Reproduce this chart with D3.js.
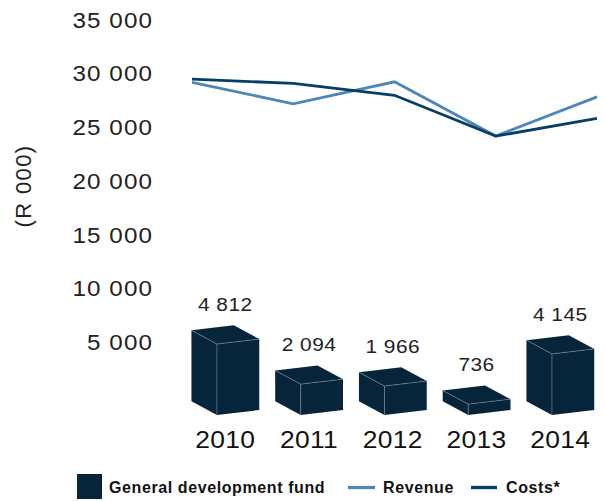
<!DOCTYPE html>
<html>
<head>
<meta charset="utf-8">
<script src="https://cdn.jsdelivr.net/npm/d3@7"></script>
<style>
  html, body { margin: 0; padding: 0; background: #fff; }
  svg { display: block; font-family: "Liberation Sans", Arial, Helvetica, sans-serif; }
</style>
</head>
<body>
<svg id="chart" width="605" height="501"></svg>
<script>
// Data
const years = ["2010", "2011", "2012", "2013", "2014"];
const generalFund = [4812, 2094, 1966, 736, 4145];
const revenue = [29200, 27200, 29250, 24200, 27850];
const costs = [29500, 29100, 28000, 24200, 25850];
const yTicks = [5000, 10000, 15000, 20000, 25000, 30000, 35000];
const legendItems = ["General development fund", "Revenue", "Costs*"];

const colors = {
  fund: "#06243a",
  edge: "#7f9db4",
  revenue: "#4e86b6",
  costs: "#053f66",
  text: "#222"
};

const fmt = d3.formatLocale({ decimal: ".", thousands: " ", grouping: [3], currency: ["R", ""] }).format(",");

const svg = d3.select("#chart");

// Wide-set numerals: stretch text horizontally around its anchor point
const stretch = 1.1;

// Scales
const y = d3.scaleLinear().domain([0, 35000]).range([396.25, 20]);
const xLine = d3.scalePoint().domain(years).range([192, 597]);
const xBox = d3.scalePoint().domain(years).range([225.25, 560.25]);
const boxH = d3.scaleLinear().domain([0, 5000]).range([0, 73.7]);

// Y axis (labels only)
const axis = d3.axisLeft(y).tickValues(yTicks).tickFormat(fmt).tickSize(0).tickPadding(0);
const gAxis = svg.append("g").attr("transform", "translate(153,0)").call(axis);
gAxis.select(".domain").remove();
gAxis.selectAll("text")
  .attr("fill", colors.text)
  .attr("transform", `scale(${stretch},1)`)
  .style("font-size", "22px")
  .style("letter-spacing", "1px")
  .style("font-family", "'Liberation Sans', Arial, sans-serif");

// Axis title
svg.append("text")
  .attr("transform", "translate(31,186) rotate(-90)")
  .attr("text-anchor", "middle")
  .attr("fill", colors.text)
  .style("font-size", "22px")
  .style("letter-spacing", "1.4px")
  .text("(R 000)");

// 3D boxes for the general development fund
const base = 415;       // front-left bottom corner y
const frontW = 42.3;    // front face width
const slopeFront = 5;   // rise of the front face across its width
const depthX = 25.5, depthY = 13.7;

const boxes = svg.append("g");
years.forEach((yr, i) => {
  const cx = xBox(yr);
  const h = boxH(generalFund[i]);
  const flx = cx - 8.3, frx = flx + frontW;
  const blx = flx - depthX;
  const flb = base, frb = base - slopeFront, blb = base - depthY;
  const flt = flb - h, frt = frb - h, blt = blb - h, brt = blt - slopeFront;
  const brx = blx + frontW;

  const g = boxes.append("g");
  // left face
  g.append("polygon")
    .attr("points", [[blx, blt], [flx, flt], [flx, flb], [blx, blb]].join(" "))
    .attr("fill", colors.fund);
  // front face
  g.append("polygon")
    .attr("points", [[flx, flt], [frx, frt], [frx, frb], [flx, flb]].join(" "))
    .attr("fill", colors.fund);
  // top face
  g.append("polygon")
    .attr("points", [[blx, blt], [brx, brt], [frx, frt], [flx, flt]].join(" "))
    .attr("fill", colors.fund);
  // highlight edges
  g.append("path")
    .attr("d", `M${blx},${blt}L${flx},${flt}L${frx},${frt}M${flx},${flt}L${flx},${flb}`)
    .attr("fill", "none")
    .attr("stroke", colors.edge)
    .attr("stroke-width", 0.6)
    .attr("stroke-opacity", 0.85);

  // value label
  svg.append("text")
    .attr("transform", `translate(${cx},${flt - 33}) scale(${stretch},1)`)
    .attr("text-anchor", "middle")
    .attr("fill", colors.text)
    .style("font-size", "19px")
    .style("letter-spacing", "0.4px")
    .text(fmt(generalFund[i]));

  // year label
  svg.append("text")
    .attr("transform", `translate(${cx},448) scale(${stretch},1)`)
    .attr("text-anchor", "middle")
    .attr("fill", "#111")
    .style("font-size", "24px")
    .style("letter-spacing", "0.3px")
    .text(yr);
});

// Lines
const line = d3.line().x((d, i) => xLine(years[i])).y(d => y(d));
svg.append("path").datum(revenue)
  .attr("d", line).attr("fill", "none")
  .attr("stroke", colors.revenue).attr("stroke-width", 2.8);
svg.append("path").datum(costs)
  .attr("d", line).attr("fill", "none")
  .attr("stroke", colors.costs).attr("stroke-width", 2.8);

// Legend
const leg = svg.append("g")
  .style("font-size", "16px")
  .style("font-weight", "bold")
  .style("letter-spacing", "0.6px")
  .attr("fill", "#111");
leg.append("rect").attr("x", 77).attr("y", 474).attr("width", 25).attr("height", 25).attr("fill", colors.fund);
leg.append("text").attr("x", 109).attr("y", 493).text(legendItems[0]);
leg.append("line").attr("x1", 348).attr("x2", 375).attr("y1", 487.5).attr("y2", 487.5)
  .attr("stroke", colors.revenue).attr("stroke-width", 3.3);
leg.append("text").attr("x", 383).attr("y", 493).text(legendItems[1]);
leg.append("line").attr("x1", 471).attr("x2", 497).attr("y1", 487.5).attr("y2", 487.5)
  .attr("stroke", colors.costs).attr("stroke-width", 3.3);
leg.append("text").attr("x", 506).attr("y", 493).text(legendItems[2]);
</script>
</body>
</html>
